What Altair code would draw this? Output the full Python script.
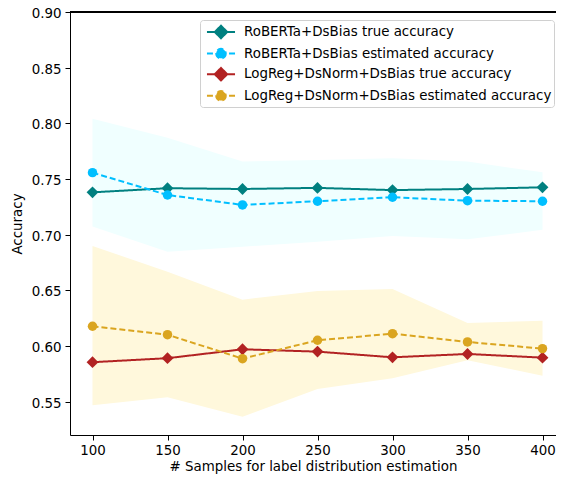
import altair as alt
import pandas as pd

x_vals = [100, 150, 200, 250, 300, 350, 400]
roberta_true = [0.738, 0.7417, 0.741, 0.742, 0.740, 0.741, 0.7425]
roberta_est = [0.7557, 0.7356, 0.7267, 0.730, 0.7336, 0.7305, 0.730]
roberta_hi = [0.804, 0.787, 0.7656, 0.767, 0.7686, 0.7656, 0.756]
roberta_lo = [0.7072, 0.6847, 0.6892, 0.6937, 0.6988, 0.6958, 0.7043]
logreg_true = [0.5854, 0.589, 0.597, 0.5949, 0.5898, 0.5928, 0.5895]
logreg_est = [0.6177, 0.6101, 0.5886, 0.6051, 0.6110, 0.6036, 0.5976]
logreg_hi = [0.6898, 0.6667, 0.6416, 0.6494, 0.6512, 0.6207, 0.6227]
logreg_lo = [0.5467, 0.5539, 0.5363, 0.5614, 0.5710, 0.5871, 0.5733]

series = [
    "RoBERTa+DsBias true accuracy",
    "RoBERTa+DsBias estimated accuracy",
    "LogReg+DsNorm+DsBias true accuracy",
    "LogReg+DsNorm+DsBias estimated accuracy",
]
colors = ["#008080", "#00BFFF", "#B22222", "#DAA520"]
dashes = [[1, 0], [6, 3], [1, 0], [6, 3]]
groups = ["RoBERTa", "LogReg"]
band_colors = ["#F0FFFF", "#FFF8DC"]

# legend glyphs (unit square scaled by sqrt(symbolSize)/2 ~ 8.66 px)
diamond = "M0,-0.72L0.72,0L0,0.72L-0.72,0Z"
circle = "M0.55,0A0.55,0.55,0,1,1,-0.55,0A0.55,0.55,0,1,1,0.55,0Z"
solid_seg = "M-1.62,0L1.62,0"
dash_seg = "M-1.62,0L-0.93,0M0.93,0L1.62,0"
legend_paths = [solid_seg + diamond, dash_seg + circle, solid_seg + diamond, dash_seg + circle]

rows = []
for name, vals in zip(series, [roberta_true, roberta_est, logreg_true, logreg_est]):
    for xv, v in zip(x_vals, vals):
        rows.append({"x": xv, "series": name, "value": v})
df = pd.DataFrame(rows)

brows = []
for g, lo, hi in zip(groups, [roberta_lo, logreg_lo], [roberta_hi, logreg_hi]):
    for xv, l, h in zip(x_vals, lo, hi):
        brows.append({"x": xv, "group": g, "lo": l, "hi": h})
bdf = pd.DataFrame(brows)

FONT = "DejaVu Sans"
FS = 13.4
W, H = 486, 423

xscale = alt.Scale(domain=[85, 409], nice=False, zero=False)
yscale = alt.Scale(domain=[0.52, 0.90], nice=False, zero=False)
xenc = alt.X("x:Q", scale=xscale, axis=alt.Axis(
    title="# Samples for label distribution estimation", values=x_vals, format="d",
    grid=False, tickSize=5, labelPadding=3, titlePadding=3))
yenc = alt.Y("value:Q", scale=yscale, axis=alt.Axis(
    title="Accuracy", values=[0.55, 0.60, 0.65, 0.70, 0.75, 0.80, 0.85, 0.90], format=".2f",
    grid=False, tickSize=5, labelPadding=4, titlePadding=7,
    labelBaseline="alphabetic", labelOffset=5.4))

color_scale = alt.Scale(domain=series, range=colors)
dash_scale = alt.Scale(domain=series, range=dashes)
shape_scale = alt.Scale(domain=series, range=legend_paths)
leg = alt.Legend(title=None, orient="none", legendX=130, legendY=8)

band = alt.Chart(bdf).mark_area(opacity=1).encode(
    x=alt.X("x:Q", scale=xscale),
    y=alt.Y("lo:Q", scale=yscale),
    y2="hi:Q",
    fill=alt.Fill("group:N", scale=alt.Scale(domain=groups, range=band_colors), legend=None),
)

lines = alt.Chart(df).mark_line(strokeWidth=2).encode(
    x=xenc, y=yenc,
    color=alt.Color("series:N", scale=color_scale, legend=leg),
    strokeDash=alt.StrokeDash("series:N", scale=dash_scale, legend=leg),
)

diamonds = alt.Chart(df).transform_filter(
    alt.FieldOneOfPredicate(field="series", oneOf=[series[0], series[2]])
).mark_point(shape="diamond", filled=True, size=140, opacity=1).encode(
    x=alt.X("x:Q", scale=xscale), y=alt.Y("value:Q", scale=yscale),
    color=alt.Color("series:N", scale=color_scale, legend=leg),
)

circles = alt.Chart(df).transform_filter(
    alt.FieldOneOfPredicate(field="series", oneOf=[series[1], series[3]])
).mark_point(shape="circle", filled=True, size=90, opacity=1).encode(
    x=alt.X("x:Q", scale=xscale), y=alt.Y("value:Q", scale=yscale),
    color=alt.Color("series:N", scale=color_scale, legend=leg),
)

legend_layer = alt.Chart(df).transform_filter("datum.x < 0").mark_point(
    filled=True, opacity=1, strokeWidth=2
).encode(
    x=alt.X("x:Q", scale=xscale), y=alt.Y("value:Q", scale=yscale),
    color=alt.Color("series:N", scale=color_scale, legend=leg),
    shape=alt.Shape("series:N", scale=shape_scale, legend=leg),
    strokeDash=alt.StrokeDash("series:N", scale=dash_scale, legend=leg),
)

top_spine = alt.Chart(df).mark_rule(color="black", strokeWidth=1).encode(
    x=alt.value(0), x2=alt.value(W), y=alt.value(0)
)

chart = alt.layer(band, lines, diamonds, circles, legend_layer, top_spine).properties(
    width=W, height=H,
    padding={"left": 62, "top": 4, "right": 0, "bottom": 42},
    autosize=alt.AutoSizeParams(type="none"),
).configure_view(stroke=None).configure_axis(
    labelFont=FONT, titleFont=FONT, labelFontSize=FS, titleFontSize=FS,
    labelColor="black", titleColor="black", domainColor="black", tickColor="black",
    titleFontWeight="normal", domainWidth=1, tickWidth=1,
).configure_legend(
    labelFont=FONT, labelFontSize=FS, labelColor="black", labelLimit=0,
    symbolSize=300, symbolStrokeWidth=2, strokeColor="#d0d0d0", fillColor="rgba(255,255,255,0.8)",
    cornerRadius=3, padding=2, rowPadding=0.6, symbolOffset=9, labelOffset=13,
)

chart.save("out.html", embed_options={"renderer": "svg", "actions": False})
